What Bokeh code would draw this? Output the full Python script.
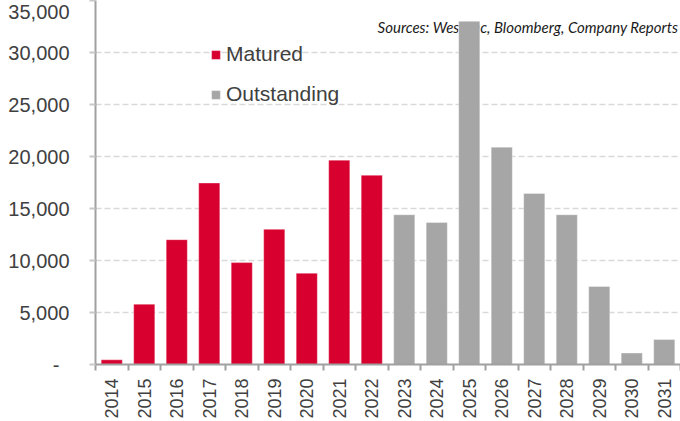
from bokeh.plotting import figure
from bokeh.models import (FixedTicker, CustomJSTickFormatter, Label, Legend, LegendItem,
                          ColumnDataSource, Range1d)
from bokeh.embed import file_html
from bokeh.resources import INLINE
import math

years = ["2014", "2015", "2016", "2017", "2018", "2019", "2020", "2021", "2022",
         "2023", "2024", "2025", "2026", "2027", "2028", "2029", "2030", "2031"]
matured_years = ["2014", "2015", "2016", "2017", "2018", "2019", "2020", "2021", "2022"]
matured_values = [450, 5800, 12000, 17450, 9800, 13000, 8775, 19650, 18200]
outstanding_years = ["2023", "2024", "2025", "2026", "2027", "2028", "2029", "2030", "2031"]
outstanding_values = [14400, 13650, 33000, 20900, 16450, 14400, 7500, 1100, 2400]
y_ticks = [0, 5000, 10000, 15000, 20000, 25000, 30000, 35000]
source_text = "Sources: Westpac, Bloomberg, Company Reports"

RED = "#D7002F"
GREY = "#A6A6A6"
TEXT = "#404040"

pos = {y: i for i, y in enumerate(years)}

p = figure(width=680, height=421, output_backend="svg", toolbar_location=None,
           x_range=Range1d(-0.5, len(years) - 0.5), y_range=Range1d(0, 35000),
           min_border_left=95, min_border_right=0, min_border_top=0, min_border_bottom=0)
p.outline_line_color = None
p.background_fill_color = "white"

src_text = Label(x=583, y=338, x_units="screen", y_units="screen", text=source_text,
                 text_align="right", text_baseline="alphabetic", text_font="Lato",
                 text_font_style="italic", text_font_size="15px", text_color="#1a1a1a",
                 level="underlay")
p.add_layout(src_text)

ms = ColumnDataSource(dict(x=[pos[y] for y in matured_years], top=matured_values))
os_ = ColumnDataSource(dict(x=[pos[y] for y in outstanding_years], top=outstanding_values))
r1 = p.vbar(x="x", top="top", width=0.65, source=ms, fill_color=RED,
            line_color="white", line_alpha=0.35, line_width=1)
r2 = p.vbar(x="x", top="top", width=0.65, source=os_, fill_color=GREY,
            line_color="white", line_alpha=0.35, line_width=1)

legend = Legend(items=[LegendItem(label="Matured", renderers=[r1]),
                       LegendItem(label="Outstanding", renderers=[r2])],
                location=(115, 258), padding=0, margin=0, spacing=16,
                glyph_width=11, glyph_height=11, label_height=24,
                label_text_font="Liberation Sans", label_text_font_size="21px",
                label_text_color=TEXT, label_standoff=5,
                background_fill_alpha=0, border_line_color=None)
p.add_layout(legend, "center")

# x axis
xa = p.xaxis[0]
xa.ticker = FixedTicker(ticks=list(range(len(years))),
                        minor_ticks=[i - 0.5 for i in range(len(years) + 1)])
xa.major_label_overrides = {i: y for i, y in enumerate(years)}
xa.major_label_orientation = math.pi / 2
xa.major_label_text_font = "Liberation Sans"
xa.major_label_text_font_size = "18px"
xa.major_label_text_color = TEXT
xa.major_tick_line_color = None
xa.major_tick_out = 0
xa.major_tick_in = 0
xa.minor_tick_line_color = "#A0A0A0"
xa.minor_tick_line_width = 2
xa.minor_tick_out = 6
xa.minor_tick_in = 0
xa.major_label_standoff = 8
xa.axis_line_color = "#A0A0A0"
xa.axis_line_width = 2

# y axis
ya = p.yaxis[0]
ya.ticker = FixedTicker(ticks=y_ticks, minor_ticks=[])
ya.formatter = CustomJSTickFormatter(code="return tick == 0 ? '-\u2002' : tick.toLocaleString('en-US');")
ya.major_label_text_font = "Liberation Sans"
ya.major_label_text_font_size = "20px"
ya.major_label_text_color = TEXT
ya.major_tick_out = 6
ya.major_tick_in = 0
ya.major_tick_line_color = "#C8C8C8"
ya.major_tick_line_width = 2
ya.minor_tick_line_color = None
ya.major_label_standoff = 20
ya.axis_line_color = "#A0A0A0"
ya.axis_line_width = 2

p.xgrid.grid_line_color = None
p.ygrid.grid_line_color = "#D9D9D9"
p.ygrid.grid_line_width = 1.5
p.ygrid.grid_line_dash = "6 3"

open("out.html", "w").write(file_html(p, INLINE))
